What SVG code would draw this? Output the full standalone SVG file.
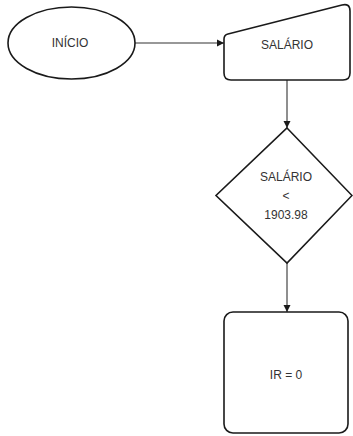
<svg xmlns="http://www.w3.org/2000/svg" width="353" height="436" viewBox="0 0 353 436">
<style>
.s{fill:#fff;stroke:#1a1a1a;stroke-width:1.6}
.t{font-family:"Liberation Sans",Arial,sans-serif;font-size:12px;fill:#333;text-anchor:middle;dominant-baseline:central}
.c{fill:none;stroke:#333;stroke-width:1.1}
</style>
<defs>
<marker id="a" markerWidth="8" markerHeight="8" refX="7" refY="4" orient="auto" markerUnits="userSpaceOnUse">
<path d="M0,0.5 L7,4 L0,7.5 Z" fill="#1a1a1a"/>
</marker>
</defs>
<rect width="353" height="436" fill="#fff"/>
<g id="connectors">
<path class="c" d="M135,43 H224" marker-end="url(#a)"/>
<path class="c" d="M287,80 V128" marker-end="url(#a)"/>
<path class="c" d="M287,263 V312" marker-end="url(#a)"/>
</g>
<g id="inicio">
<ellipse class="s" cx="71.5" cy="43" rx="63.5" ry="36"/>
<text class="t" x="70" y="43">INÍCIO</text>
</g>
<g id="salario-input">
<path class="s" d="M224,39 Q224,35 228,34 L342,5 Q350,3 350,11 V73 Q350,80 343,80 H231 Q224,80 224,73 Z"/>
<text class="t" x="287" y="45">SALÁRIO</text>
</g>
<g id="decisao">
<path class="s" d="M287,128 L352,195.5 L287,263 L216,195.5 Z"/>
<text class="t" x="286" y="177">SALÁRIO</text>
<text class="t" x="286" y="196">&lt;</text>
<text class="t" x="286" y="215">1903.98</text>
</g>
<g id="ir">
<rect class="s" x="224" y="312" width="124" height="121" rx="9"/>
<text class="t" x="286" y="375">IR = 0</text>
</g>
</svg>
